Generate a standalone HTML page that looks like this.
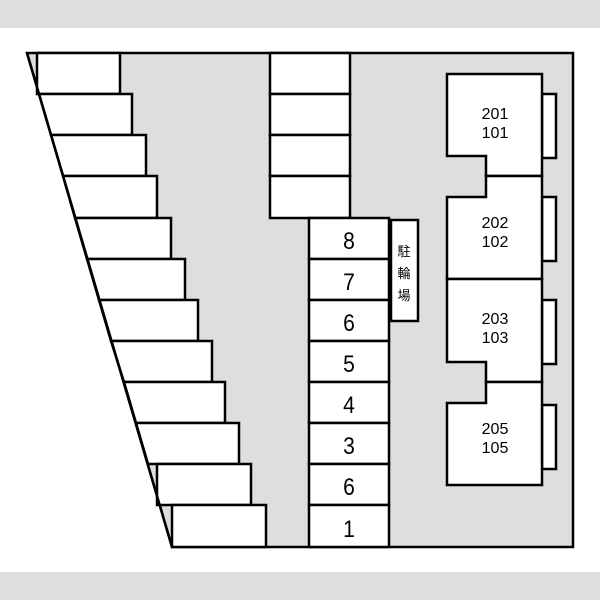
<!DOCTYPE html>
<html><head><meta charset="utf-8"><style>body{margin:0}svg{display:block}</style></head><body>
<svg width="600" height="600" viewBox="0 0 600 600" xmlns="http://www.w3.org/2000/svg" font-family="Liberation Sans, Noto Sans CJK JP, sans-serif">
<rect x="0" y="0" width="600" height="600" fill="#fff"/>
<rect x="0" y="0" width="600" height="28" fill="#dedede"/>
<rect x="0" y="572" width="600" height="28" fill="#dedede"/>
<g stroke="#000" stroke-width="2.5" fill="#fff">
<polygon points="27,53 573,53 573,547 172,547" fill="#dedede"/>
<polygon points="37,53 120,53 120,94 37,94"/>
<polygon points="39,94 132,94 132,135 51,135 39,94"/>
<polygon points="51,135 146,135 146,176 63,176"/>
<polygon points="63,176 157,176 157,218 75,218"/>
<polygon points="75,218 171,218 171,259 87,259"/>
<polygon points="87,259 185,259 185,300 99,300"/>
<polygon points="99,300 198,300 198,341 111,341"/>
<polygon points="111,341 212,341 212,382 124,382"/>
<polygon points="124,382 225,382 225,423 136,423"/>
<polygon points="136,423 239,423 239,464 148,464"/>
<rect x="157" y="464" width="94" height="41"/>
<rect x="172" y="505" width="94" height="42"/>
<line x1="27" y1="53" x2="172" y2="547" fill="none"/>
<rect x="270" y="53" width="80" height="41"/>
<rect x="270" y="94" width="80" height="41"/>
<rect x="270" y="135" width="80" height="41"/>
<rect x="270" y="176" width="80" height="42"/>
<rect x="309" y="218" width="80" height="41"/>
<rect x="309" y="259" width="80" height="41"/>
<rect x="309" y="300" width="80" height="41"/>
<rect x="309" y="341" width="80" height="41"/>
<rect x="309" y="382" width="80" height="41"/>
<rect x="309" y="423" width="80" height="41"/>
<rect x="309" y="464" width="80" height="41"/>
<rect x="309" y="505" width="80" height="42"/>
<rect x="391" y="220" width="27" height="101"/>
<rect x="542" y="94" width="14" height="64"/>
<rect x="542" y="197" width="14" height="64"/>
<rect x="542" y="300" width="14" height="64"/>
<rect x="542" y="405" width="14" height="64"/>
<polygon points="447,74 542,74 542,176 486,176 486,156 447,156"/>
<polygon points="486,176 542,176 542,279 447,279 447,197 486,197"/>
<polygon points="447,279 542,279 542,382 486,382 486,362 447,362"/>
<polygon points="486,382 542,382 542,485 447,485 447,403 486,403"/>
</g>
<g font-size="24" text-anchor="middle" fill="#000">
<text x="349" y="249" transform="translate(349 0) scale(0.88 1) translate(-349 0)">8</text>
<text x="349" y="290" transform="translate(349 0) scale(0.88 1) translate(-349 0)">7</text>
<text x="349" y="331" transform="translate(349 0) scale(0.88 1) translate(-349 0)">6</text>
<text x="349" y="372" transform="translate(349 0) scale(0.88 1) translate(-349 0)">5</text>
<text x="349" y="413" transform="translate(349 0) scale(0.88 1) translate(-349 0)">4</text>
<text x="349" y="454" transform="translate(349 0) scale(0.88 1) translate(-349 0)">3</text>
<text x="349" y="495" transform="translate(349 0) scale(0.88 1) translate(-349 0)">6</text>
<text x="349" y="537" transform="translate(349 0) scale(0.88 1) translate(-349 0)">1</text>
</g>
<g font-size="16" text-anchor="middle" fill="#000">
<text x="495" y="119">201</text><text x="495" y="138">101</text>
<text x="495" y="228">202</text><text x="495" y="247">102</text>
<text x="495" y="324">203</text><text x="495" y="343">103</text>
<text x="495" y="434">205</text><text x="495" y="453">105</text>
</g>
<g font-size="13" text-anchor="middle" fill="#000">
<text x="404" y="256">駐</text><text x="404" y="278">輪</text><text x="404" y="300">場</text>
</g>
</svg>
</body></html>
